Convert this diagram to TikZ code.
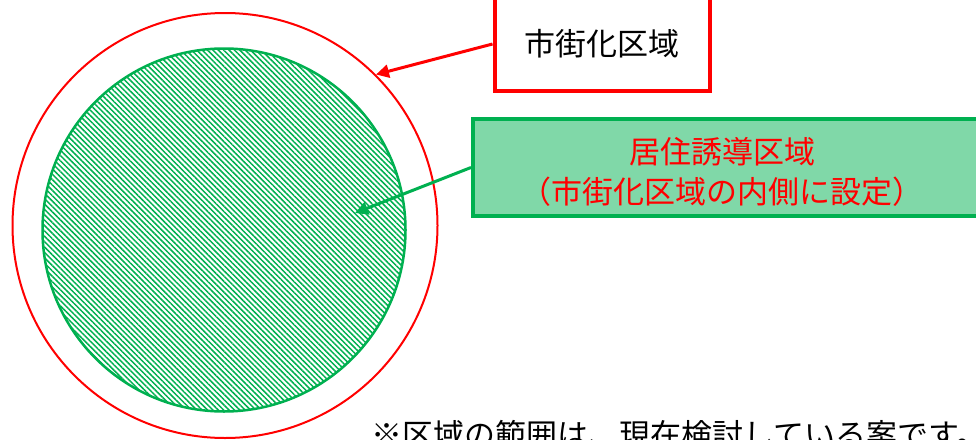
\documentclass[tikz,border=0pt]{standalone}
\usepackage{fontspec}
\setmainfont{Noto Sans CJK JP}
\usetikzlibrary{arrows.meta}
\usetikzlibrary{patterns.meta}

\definecolor{zoneRed}{RGB}{255,0,0}
\definecolor{zoneGreen}{RGB}{0,176,80}
\definecolor{boxGreen}{RGB}{128,216,168}

\tikzset{
  zone/.style={circle, draw, inner sep=0pt},
  labelbox/.style={draw, line width=4pt, inner sep=0pt},
  pointer/.style={-{Triangle[length=13pt,width=13pt]}, line width=3pt},
  jptext/.style={font=\fontsize{31}{40}\selectfont, align=center}
}

\begin{document}
\begin{tikzpicture}[x=1pt, y=-1pt]
            \useasboundingbox (0,0) rectangle (976,439);

            % urbanization area (red circle)
            \node[zone, zoneRed, line width=2pt, minimum size=425pt] (city) at (225,225.5) {};

            % residential area (hatched green circle)
            \node[zone, zoneGreen, line width=2.5pt, minimum size=363pt,
                  pattern={Lines[angle=-45, distance=3.8pt, line width=1.5pt]},
                  pattern color=zoneGreen] (living) at (224,230) {};

            % label boxes
            \node[labelbox, zoneRed, fill=white, minimum width=215pt, minimum height=94pt,
                  jptext, text=black] (citybox) at (602,44) {市街化区域};

            \node[labelbox, zoneGreen, fill=boxGreen, minimum width=530pt, minimum height=97pt]
                  (livingbox) at (738,167.5) {};
            \node[jptext, text=zoneRed] (livingtext) at (722,172)
                  {居住誘導区域\\（市街化区域の内側に設定）};

            % pointers
            \coordinate (livingtip) at (355,213);
            \draw[pointer, zoneRed] (citybox.west) -- (city.45);
            \draw[pointer, zoneGreen] (livingbox.west) -- (livingtip);

            % note
            \node[jptext, anchor=west, inner sep=0pt] (note) at (371,435)
                  {※区域の範囲は、現在検討している案です。};
\end{tikzpicture}
\end{document}
